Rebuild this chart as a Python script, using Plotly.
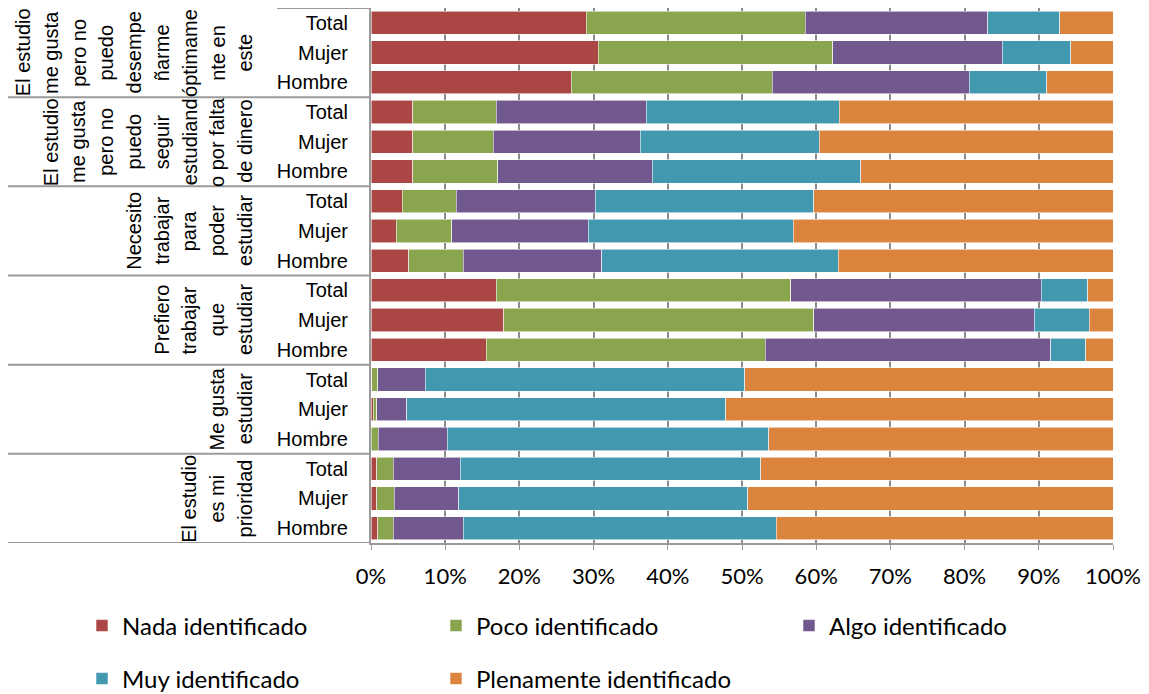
import plotly.graph_objects as go

# ---------------- data ----------------
group_lines = [
    ["El estudio", "me gusta", "pero no", "puedo", "desempe", "ñarme", "óptimame", "nte en", "este"],
    ["El estudio", "me gusta", "pero no", "puedo", "seguir", "estudiand", "o por falta", "de dinero"],
    ["Necesito", "trabajar", "para", "poder", "estudiar"],
    ["Prefiero", "trabajar", "que", "estudiar"],
    ["Me gusta", "estudiar"],
    ["El estudio", "es mi", "prioridad"],
]
subs = ["Total", "Mujer", "Hombre"]

series_names = ["Nada identificado", "Poco identificado", "Algo identificado",
                "Muy identificado", "Plenamente identificado"]
nada = [29.0, 30.6, 27.0, 5.6, 5.6, 5.6, 4.2, 3.4, 5.1, 16.9, 17.9, 15.5, 0.1, 0.3, 0.0, 0.8, 0.8, 0.9]
poco = [29.5, 31.6, 27.1, 11.3, 10.9, 11.5, 7.3, 7.5, 7.3, 39.7, 41.8, 37.6, 0.8, 0.5, 1.0, 2.2, 2.3, 2.1]
algo = [24.6, 22.9, 26.5, 20.2, 19.8, 20.8, 18.7, 18.4, 18.7, 33.7, 29.7, 38.5, 6.4, 4.0, 9.3, 9.0, 8.7, 9.4]
muy = [9.7, 9.2, 10.5, 26.0, 24.1, 28.1, 29.5, 27.6, 31.9, 6.3, 7.4, 4.7, 43.1, 43.0, 43.3, 40.5, 39.0, 42.2]
plen = [7.2, 5.7, 8.9, 36.9, 39.6, 34.0, 40.3, 43.1, 37.0, 3.4, 3.2, 3.7, 49.6, 52.2, 46.4, 47.5, 49.2, 45.4]
colors = ["#AA4643", "#89A54E", "#71588F", "#4198AF", "#DB843D"]
x_ticks = [0, 10, 20, 30, 40, 50, 60, 70, 80, 90, 100]
x_tick_labels = ["0%", "10%", "20%", "30%", "40%", "50%", "60%", "70%", "80%", "90%", "100%"]

# ---------------- layout helpers ----------------
OFF = 8                      # default page margin of the html body
W, H = 1149 - OFF, 694 - OFF
L, T = 371 - OFF, 0
R = W - (1113 - OFF)
B = H - (543 - OFF)
PW = W - L - R
n_rows = len(group_lines) * len(subs)
y_pos = list(range(n_rows))
tick_text = subs * len(group_lines)

label_font = "Liberation Sans, Arial, sans-serif"
legend_font = "Lato, Noto Sans, sans-serif"

def px_to_paper(page_px):
    return (page_px - OFF - L) / PW

fig = go.Figure()
values = [nada, poco, algo, muy, plen]
legend_ids = ["legend", "legend2", "legend3", "legend4", "legend5"]
for name, vals, col, lid in zip(series_names, values, colors, legend_ids):
    fig.add_trace(go.Bar(
        y=y_pos, x=vals, name=name, orientation="h",
        marker=dict(color=col, line=dict(color="rgba(255,255,255,0.7)", width=0.8)),
        legend=lid,
        hovertemplate="%{x:.1f}%<extra>" + name + "</extra>",
    ))

shapes = []
for g in range(len(group_lines)):
    yb = g * len(subs) + len(subs) - 0.5
    shapes.append(dict(type="line", xref="paper", yref="y",
                       x0=px_to_paper(OFF), x1=0, y0=yb, y1=yb,
                       line=dict(color="#9a9a9a", width=2)))
shapes.append(dict(type="line", xref="paper", yref="y",
                   x0=px_to_paper(277), x1=0, y0=-0.5, y1=-0.5,
                   line=dict(color="#9a9a9a", width=2)))

annotations = []
line_step = 27.8
for g, lines in enumerate(group_lines):
    n = len(lines)
    for k, txt in enumerate(lines):
        xc = 245 - (n - 1 - k) * line_step
        annotations.append(dict(
            text=txt, xref="paper", yref="y",
            x=px_to_paper(xc), y=g * len(subs) + 1,
            xanchor="center", yanchor="middle", textangle=-90,
            showarrow=False,
            font=dict(family=label_font, size=20, color="#000000"),
        ))

legend_pos = [(103, 626), (457, 626), (810, 626), (103, 679), (457, 679)]
legends = {}
for lid, (px, py) in zip(legend_ids, legend_pos):
    legends[lid] = dict(
        orientation="h", xref="container", yref="container",
        x=(px - OFF - 21) / W, y=1 - (py - OFF) / H,
        xanchor="left", yanchor="middle",
        font=dict(family=legend_font, size=24, color="#000000"),
        bgcolor="rgba(0,0,0,0)",
    )

fig.update_layout(
    width=W, height=H,
    margin=dict(l=L, r=R, t=T, b=B, pad=0),
    barmode="stack", bargap=0.22,
    plot_bgcolor="white", paper_bgcolor="white",
    shapes=shapes, annotations=annotations,
    xaxis=dict(range=[0, 100], tickmode="array", tickvals=x_ticks, ticktext=x_tick_labels,
               showgrid=True, gridcolor="#8c8c8c", gridwidth=1.5,
               showline=True, linecolor="#9a9a9a", linewidth=1.5,
               ticks="outside", ticklen=5, tickcolor="#9a9a9a",
               zeroline=False, ticklabelstandoff=8,
               tickfont=dict(family=legend_font, size=22, color="#000000")),
    yaxis=dict(range=[n_rows - 0.5, -0.5], tickmode="array", tickvals=y_pos, ticktext=tick_text,
               showgrid=False, zeroline=False,
               showline=True, linecolor="#9a9a9a", linewidth=2,
               ticks="", ticklabelstandoff=17,
               tickfont=dict(family=label_font, size=20, color="#000000")),
    showlegend=True,
    **legends,
)

fig.write_html("out.html")
